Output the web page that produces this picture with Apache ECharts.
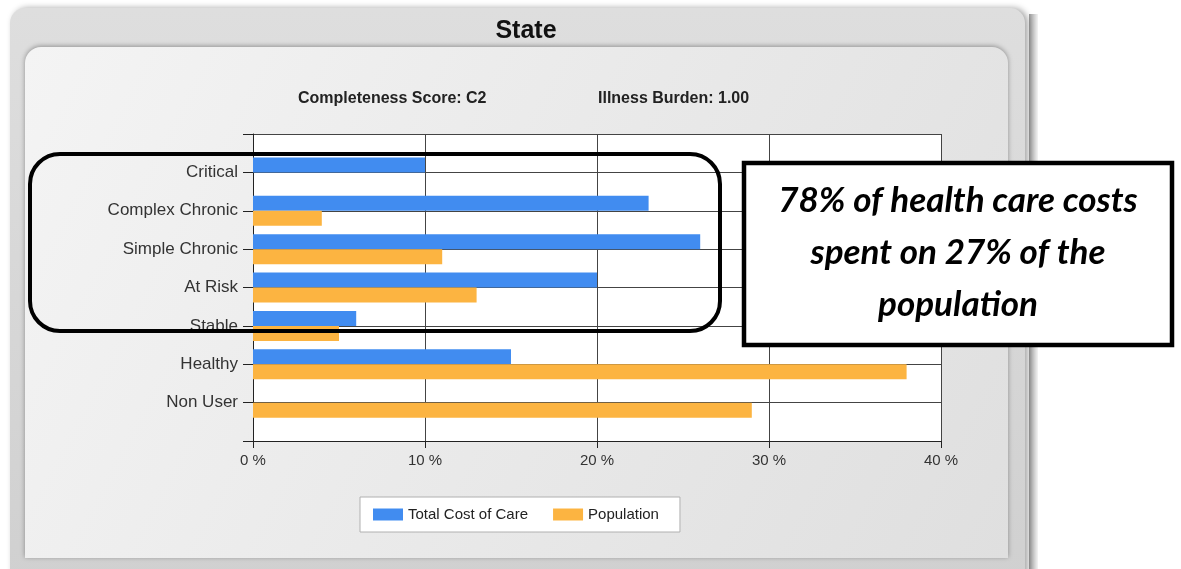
<!DOCTYPE html>
<html>
<head>
<meta charset="utf-8">
<title>State</title>
<script src="https://cdn.jsdelivr.net/npm/echarts@6/dist/echarts.min.js"></script>
<style>
    html, body { margin: 0; padding: 0; background: #ffffff; }
    #main { width: 1181px; height: 569px; }
</style>
</head>
<body>
<div id="main"></div>
<script>
// 数据
var categories = ['Critical', 'Complex Chronic', 'Simple Chronic', 'At Risk', 'Stable', 'Healthy', 'Non User'];
var totalCost = [10, 23, 26, 20, 6, 15, 0];
var population = [0, 4, 11, 13, 5, 38, 29];
var xTicks = [0, 10, 20, 30, 40];
var calloutLines = ['78% of health care costs', 'spent on 27% of the', 'population'];

var main = document.getElementById('main');
var chart = echarts.init(main);

// 类目轴两端各留一个空位，让类目落在网格线上
var yData = [''].concat(categories, ['']);
function pad(arr) {
    return [null].concat(arr.map(function (v) { return v === 0 ? null : v; }), [null]);
}

var option = {
    animation: false,
    textStyle: { fontFamily: 'Arial, "Liberation Sans", sans-serif' },
    title: [
        {
            text: 'State',
            left: 521, top: 14, textAlign: 'center',
            textStyle: { fontSize: 25, fontWeight: 'bold', color: '#111' }
        },
        {
            text: 'Completeness Score: C2',
            left: 293, top: 86,
            textStyle: { fontSize: 16, fontWeight: 'bold', color: '#222' }
        },
        {
            text: 'Illness Burden: 1.00',
            left: 593, top: 86,
            textStyle: { fontSize: 16, fontWeight: 'bold', color: '#222' }
        }
    ],
    graphic: [
        // 外框
        {
            type: 'rect', z: -10, silent: true,
            shape: { x: 10, y: 8, width: 1015, height: 580, r: 15 },
            style: {
                fill: new echarts.graphic.LinearGradient(0, 0, 0, 1, [
                    { offset: 0, color: '#dedede' },
                    { offset: 1, color: '#d0d0d0' }
                ]),
                shadowBlur: 6, shadowColor: 'rgba(0,0,0,0.35)', shadowOffsetX: 3
            }
        },
        // 右侧阴影条
        {
            type: 'rect', z: -11, silent: true,
            shape: { x: 1029, y: 14, width: 9, height: 560 },
            style: {
                fill: new echarts.graphic.LinearGradient(0, 0, 1, 0, [
                    { offset: 0, color: '#9a9a9a' },
                    { offset: 1, color: '#f4f4f4' }
                ])
            }
        },
        // 内框
        {
            type: 'rect', z: -9, silent: true,
            shape: { x: 25, y: 47, width: 983, height: 511, r: [16, 16, 0, 0] },
            style: {
                fill: new echarts.graphic.LinearGradient(0, 0, 1, 1, [
                    { offset: 0, color: '#f4f4f4' },
                    { offset: 1, color: '#dfdfdf' }
                ]),
                shadowBlur: 5, shadowColor: 'rgba(0,0,0,0.35)', shadowOffsetY: -1
            }
        },
        // 圆角标注框
        {
            type: 'rect', z: 100, silent: true,
            shape: { x: 30, y: 154, width: 690, height: 177, r: 30 },
            style: { fill: 'none', stroke: '#000', lineWidth: 4 }
        },
        // 说明框
        {
            type: 'rect', z: 100, silent: true,
            shape: { x: 744, y: 163, width: 428, height: 182 },
            style: { fill: '#fff', stroke: '#000', lineWidth: 4.5 }
        },
        {
            type: 'text', z: 101, silent: true,
            x: 958, y: 253,
            style: {
                text: calloutLines.join('\n'),
                align: 'center', verticalAlign: 'middle',
                font: 'italic bold 35px Lato, "Open Sans", sans-serif',
                lineHeight: 52,
                fill: '#000'
            }
        }
    ],
    legend: {
        left: 360, top: 497,
        data: ['Total Cost of Care', 'Population'],
        icon: 'rect',
        itemWidth: 30, itemHeight: 12, itemGap: 25,
        padding: [10, 21, 10, 13],
        backgroundColor: '#fff',
        borderColor: '#b0b0b0', borderWidth: 1,
        textStyle: { fontSize: 15, color: '#222' }
    },
    grid: {
        left: 253, top: 134, width: 688, height: 307,
        show: true, backgroundColor: '#fff', borderWidth: 0,
        containLabel: false
    },
    xAxis: {
        type: 'value', min: 0, max: 40, interval: 10,
        axisLine: { show: true, lineStyle: { color: '#222' } },
        axisTick: { show: true, length: 7, lineStyle: { color: '#222' } },
        splitLine: { show: true, lineStyle: { color: '#444' } },
        axisLabel: {
            fontSize: 15, color: '#333', margin: 12,
            formatter: function (v) { return xTicks.indexOf(v) >= 0 ? v + ' %' : ''; }
        }
    },
    yAxis: {
        type: 'category', data: yData, inverse: true, boundaryGap: false,
        axisLine: { show: true, lineStyle: { color: '#222' } },
        axisTick: { show: true, length: 10, interval: 0, lineStyle: { color: '#222' } },
        splitLine: { show: true, interval: 0, lineStyle: { color: '#444' } },
        axisLabel: { fontSize: 17, color: '#333', margin: 15, interval: 0 }
    },
    series: [
        {
            name: 'Total Cost of Care', type: 'bar',
            data: pad(totalCost),
            barWidth: 15, barGap: '0%',
            itemStyle: { color: '#418cf0' }
        },
        {
            name: 'Population', type: 'bar',
            data: pad(population),
            barWidth: 15, barGap: '0%',
            itemStyle: { color: '#fcb441' }
        }
    ]
};

chart.setOption(option);
</script>
</body>
</html>
